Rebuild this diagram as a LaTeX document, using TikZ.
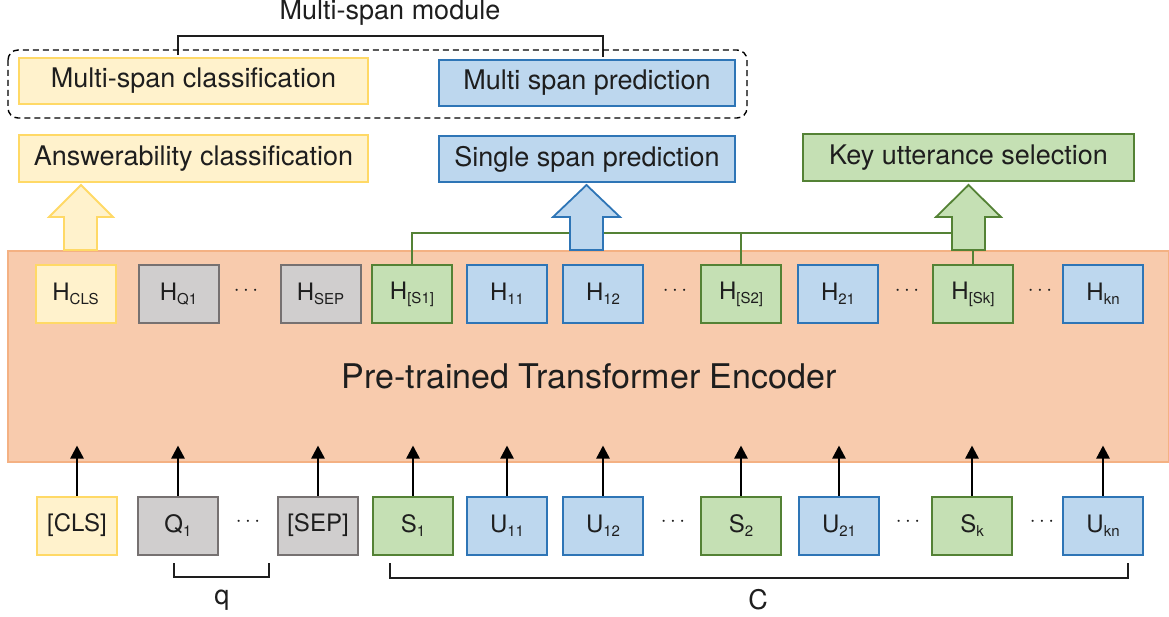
\documentclass[tikz,border=0pt]{standalone}
\usepackage{fontspec}
\setmainfont{TeX Gyre Heros}
\usetikzlibrary{arrows.meta}
\definecolor{yfill}{HTML}{FFF2CC}
\definecolor{ydraw}{HTML}{FFD966}
\definecolor{bfill}{HTML}{BDD7EE}
\definecolor{bdraw}{HTML}{2E75B6}
\definecolor{gfill}{HTML}{C5E0B4}
\definecolor{gdraw}{HTML}{548235}
\definecolor{kfill}{HTML}{D0CECE}
\definecolor{kdraw}{HTML}{767171}
\definecolor{ofill}{HTML}{F8CBAD}
\definecolor{odraw}{HTML}{F4B183}
\definecolor{textc}{HTML}{1E1E1E}
\newcommand{\sbx}[1]{\raisebox{-4pt}{\fontsize{15}{15}\selectfont #1}}
\begin{document}
\begin{tikzpicture}[x=1pt,y=-1pt,
  txt/.style={font=\fontsize{27}{30}\selectfont, text=textc, inner sep=0pt},
  head/.style={draw, line width=1.8pt, inner sep=0pt, font=\fontsize{27}{30}\selectfont, text=textc, minimum height=46pt},
  tok/.style={draw, line width=2pt, minimum width=80pt, minimum height=58pt, inner sep=0pt, font=\fontsize{24}{28}\selectfont, text=textc},
  ytok/.style={tok, fill=yfill, draw=ydraw},
  btok/.style={tok, fill=bfill, draw=bdraw},
  gtok/.style={tok, fill=gfill, draw=gdraw},
  ktok/.style={tok, fill=kfill, draw=kdraw},
  dots/.style={font=\fontsize{20}{20}\selectfont, text=textc, inner sep=0pt},
  inarrow/.style={line width=2.4pt, -{Triangle[length=13pt,width=13pt]}},
  gline/.style={draw=gdraw, line width=1.6pt},
  brk/.style={draw=textc, line width=1.4pt},
  fat/.style={line width=1.8pt, line join=miter}
]
\useasboundingbox (0,0) rectangle (1169,617);

% title and bracket
\node[txt] (title) at (390,13) {Multi-span module};
\draw[brk] (178,55) -- (178,36) -- (603,36) -- (603,57);

% dashed module
\draw[line width=1.4pt, dash pattern=on 6pt off 4pt, rounded corners=10pt] (8,50) rectangle (747,118);
\node[head, fill=yfill, draw=ydraw, minimum width=349pt] (msc) at (193.5,81) {Multi-span classification};
\node[head, fill=bfill, draw=bdraw, minimum width=296pt] (msp) at (587,83) {Multi span prediction};

% heads
\node[head, fill=yfill, draw=ydraw, minimum width=349pt, minimum height=47pt] (ans) at (193.5,158.5) {Answerability classification};
\node[head, fill=bfill, draw=bdraw, minimum width=296pt] (ssp) at (587,159) {Single span prediction};
\node[head, fill=gfill, draw=gdraw, minimum width=331pt, minimum height=47pt] (kus) at (968.5,157.5) {Key utterance selection};

% encoder
\node[draw=odraw, fill=ofill, line width=1.5pt, minimum width=1161pt, minimum height=211pt, inner sep=0pt] (enc) at (588.5,356.5) {};
\node[font=\fontsize{34}{40}\selectfont, text=textc, inner sep=0pt] (enclabel) at (589,376) {Pre-trained Transformer Encoder};

% upper tokens
\node[ytok] (hcls) at (75.5,294) {H\sbx{CLS}};
\node[ktok] (hq1) at (178.5,294) {H\sbx{Q1}};
\node[dots] (ud1) at (246,291) {$\cdots$};
\node[ktok] (hsep) at (320.5,294) {H\sbx{SEP}};
\node[gtok] (hs1) at (412,294) {H\sbx{[S1]}};
\node[btok] (h11) at (507,294) {H\sbx{11}};
\node[btok] (h12) at (603,294) {H\sbx{12}};
\node[dots] (ud2) at (675,291) {$\cdots$};
\node[gtok] (hs2) at (741,294) {H\sbx{[S2]}};
\node[btok] (h21) at (838,294) {H\sbx{21}};
\node[dots] (ud3) at (907,291) {$\cdots$};
\node[gtok] (hsk) at (973,294) {H\sbx{[Sk]}};
\node[dots] (ud4) at (1040,291) {$\cdots$};
\node[btok] (hkn) at (1103,294) {H\sbx{kn}};

% green connectors
\coordinate (gj) at (952,233);
\coordinate (gbot) at (973,250);
\draw[gline] (hs1.north) |- (gj);
\draw[gline] (hs2.north) -- (hs2.north |- gj);
\draw[gline] (hsk.north) -- (gbot);

% fat arrows
\draw[fat, fill=yfill, draw=ydraw] (64,250) -- (64,217) -- (49,217) -- (81,185) -- (113,217) -- (97,217) -- (97,250) -- cycle;
\draw[fat, fill=bfill, draw=bdraw] (570,250) -- (570,217) -- (553,217) -- (586.5,185) -- (620,217) -- (603,217) -- (603,250) -- cycle;
\draw[fat, fill=gfill, draw=gdraw] (952,250) -- (952,217) -- (936,217) -- (968.5,185) -- (1001,217) -- (985,217) -- (985,250) -- cycle;

% lower tokens
\node[ytok] (cls) at (77,525.5) {[CLS]};
\node[ktok] (q1) at (178,525.5) {Q\sbx{1}};
\node[dots] (ld1) at (248,522) {$\cdots$};
\node[ktok] (sep) at (318,525.5) {[SEP]};
\node[gtok] (s1) at (413,525.5) {S\sbx{1}};
\node[btok] (u11) at (507,525.5) {U\sbx{11}};
\node[btok] (u12) at (603,525.5) {U\sbx{12}};
\node[dots] (ld2) at (673,522) {$\cdots$};
\node[gtok] (s2) at (741,525.5) {S\sbx{2}};
\node[btok] (u21) at (839,525.5) {U\sbx{21}};
\node[dots] (ld3) at (908,522) {$\cdots$};
\node[gtok] (sk) at (972,525.5) {S\sbx{k}};
\node[dots] (ld4) at (1042,522) {$\cdots$};
\node[btok] (ukn) at (1103,525.5) {U\sbx{kn}};

% input arrows
\foreach \n in {cls,q1,sep,s1,u11,u12,s2,u21,sk,ukn}
  \draw[inarrow] (\n.north) -- ++(0,-50);

% bottom brackets
\draw[brk] (174,563) -- (174,577) -- (269,577) -- (269,563);
\node[txt] (qlab) at (222,600) {q};
\draw[brk] (390,563) -- (390,578) -- (1128,578) -- (1128,563);
\node[txt] (clab) at (758,600) {C};
\end{tikzpicture}
\end{document}
